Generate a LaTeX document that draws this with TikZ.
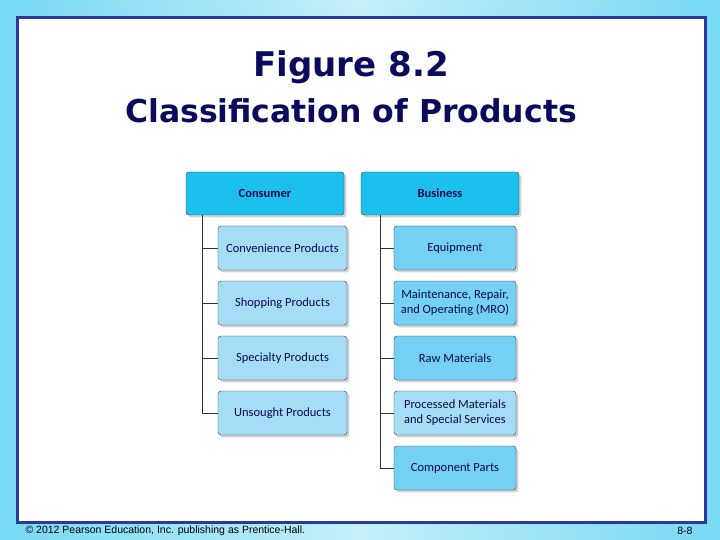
\documentclass[tikz,border=0pt]{standalone}
\usepackage{fontspec}
\setmainfont{Carlito}
\newfontfamily\titlefont{DejaVu Sans}
\newfontfamily\footfont{Liberation Sans}
\usetikzlibrary{shadows}
\definecolor{navy}{HTML}{0B0B5E}
\definecolor{frameblue}{HTML}{2A3A9A}
\definecolor{headblue}{HTML}{1CC0EE}
\definecolor{subblue}{HTML}{A6DDF6}
\definecolor{bizblue}{HTML}{74D0F4}
\definecolor{skyblue}{HTML}{3CC8EE}
\tikzset{
  headbox/.style={draw=black!80, fill=headblue, rounded corners=3pt,
    minimum width=158pt, minimum height=43pt, font=\fontsize{12.5}{14}\selectfont\bfseries,
    text=navy!80!black, drop shadow={opacity=0.35}},
  subbox/.style={draw=black!80, fill=subblue, rounded corners=3pt,
    minimum height=44pt, align=center, inner sep=1pt, font=\fontsize{12.5}{15}\selectfont,
    text=navy!80!black, drop shadow={opacity=0.35}},
  tree/.style={draw=black!80, line width=0.9pt}
}
\begin{document}
\begin{tikzpicture}[x=1pt,y=-1pt]
  \useasboundingbox (0,0) rectangle (720,540);
  \shade[left color=skyblue!70, right color=skyblue!70, middle color=skyblue!30] (0,0) rectangle (720,540);
  \draw[frameblue, line width=3pt, fill=white] (17,18) rectangle (705,522);
  \node[font=\titlefont\bfseries\fontsize{34}{38}\selectfont, text=navy] (title) at (351,67) {Figure 8.2};
  \node[font=\titlefont\bfseries\fontsize{31.5}{36}\selectfont, text=navy] (subtitle) at (351,111) {Classification of Products};

  % consumer column
  \node[headbox] (cons) at (265,193.5) {Consumer};
  \node[subbox, minimum width=129pt] (conv) at (282.5,248) {Convenience Products};
  \node[subbox, minimum width=129pt] (shop) at (282.5,303) {Shopping Products};
  \node[subbox, minimum width=129pt] (spec) at (282.5,358) {Specialty Products};
  \node[subbox, minimum width=129pt] (unso) at (282.5,413) {Unsought Products};
  \coordinate (ctop) at (202,215);
  \draw[tree] (ctop) |- (unso.west);
  \foreach \n in {conv,shop,spec}{
    \draw[tree] (202,0 |- \n.west) -- (\n.west);
  }

  % business column
  \node[headbox] (bus) at (440,193.5) {Business};
  \node[subbox, fill=bizblue, minimum width=122pt] (equi) at (455,248) {Equipment};
  \node[subbox, fill=bizblue, minimum width=122pt] (mro) at (455,303) {Maintenance, Repair,\\and Operating (MRO)};
  \node[subbox, fill=bizblue, minimum width=122pt] (raw) at (455,358) {Raw Materials};
  \node[subbox, fill=subblue, minimum width=122pt] (proc) at (455,413) {Processed Materials\\and Special Services};
  \node[subbox, fill=bizblue, minimum width=122pt] (comp) at (455,468) {Component Parts};
  \coordinate (btop) at (380,215);
  \draw[tree] (btop) |- (comp.west);
  \foreach \n in {equi,mro,raw,proc}{
    \draw[tree] (380,0 |- \n.west) -- (\n.west);
  }

  \node[anchor=west, font=\footfont\fontsize{10.5}{12}\selectfont] (copy) at (22,531) {© 2012 Pearson Education, Inc. publishing as Prentice-Hall.};
  \node[anchor=east, font=\footfont\fontsize{10.5}{12}\selectfont] (page) at (696,531) {8-8};
\end{tikzpicture}
\end{document}
